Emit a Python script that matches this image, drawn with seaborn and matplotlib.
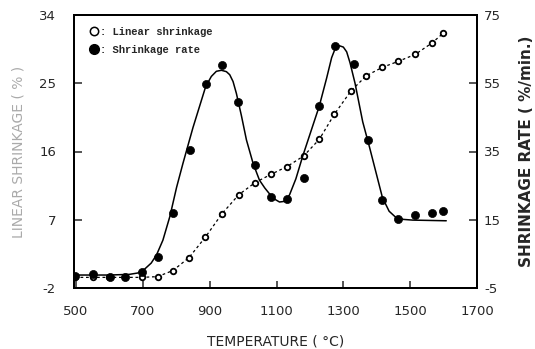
import matplotlib
matplotlib.use("Agg")
import matplotlib.pyplot as plt
import seaborn as sns
import pandas as pd
from matplotlib.lines import Line2D

# ---- data ----
temp_linear = [497, 552, 600, 648, 696, 744, 790, 838, 887, 937, 987, 1036, 1084,
               1131, 1181, 1228, 1273, 1323, 1369, 1417, 1465, 1515, 1565, 1599]
linear_shrinkage = [-0.6, -0.6, -0.6, -0.6, -0.6, -0.5, 0.3, 2.0, 4.7, 7.8, 10.3, 11.9,
                    13.0, 14.0, 15.4, 17.6, 20.9, 24.0, 26.0, 27.1, 27.9, 28.8, 30.3, 31.6]

temp_rate = [497, 552, 601, 648, 698, 744, 790, 840, 888, 937, 984, 1036, 1084,
             1131, 1181, 1228, 1275, 1331, 1373, 1417, 1465, 1515, 1565, 1599]
shrinkage_rate = [-1.4, -1.0, -1.7, -1.7, -0.3, 4.2, 17.1, 35.4, 54.9, 60.3, 49.4, 31.0,
                  21.8, 21.2, 27.1, 48.3, 65.9, 60.6, 38.4, 20.8, 15.2, 16.4, 16.9, 17.6]

# hand-drawn fit curve through the rate points
curve_temp = [497, 600, 660, 685, 705, 725, 741, 760, 781, 801, 820, 850, 888, 905,
              920, 935, 950, 960, 970, 980, 995, 1010, 1030, 1049, 1065, 1079, 1095,
              1109, 1125, 1139, 1158, 1178, 1205, 1228, 1250, 1265, 1275, 1288, 1300,
              1310, 1320, 1335, 1358, 1378, 1400, 1417, 1437, 1457, 1480, 1507, 1608]
curve_rate = [-1.2, -1.2, -1.0, -0.6, 0.5, 2.3, 4.7, 9.0, 16.0, 24.5, 31.5, 42.0,
              54.0, 57.0, 58.5, 58.8, 58.4, 57.5, 55.5, 52.0, 45.5, 38.4, 31.5, 26.6,
              24.3, 22.6, 21.0, 20.2, 20.4, 22.3, 27.0, 33.5, 41.5, 48.3, 56.5, 62.5,
              65.0, 66.0, 65.6, 64.2, 61.0, 55.0, 43.7, 36.4, 28.0, 21.5, 17.5, 15.7,
              15.1, 14.9, 14.7]

x_ticks = [500, 700, 900, 1100, 1300, 1500, 1700]
left_ticks = [-2, 7, 16, 25, 34]
right_ticks = [-5, 15, 35, 55, 75]

sns.set_style("ticks")
plt.rcParams['font.family'] = ['DejaVu Sans']
plt.rcParams['axes.unicode_minus'] = False

fig = plt.figure(figsize=(5.35, 3.49), dpi=100)
ax = fig.add_axes([74 / 535, 1 - 288 / 349, (477 - 74) / 535, (288 - 15) / 349])
ax2 = ax.twinx()

df_lin = pd.DataFrame({"T": temp_linear, "v": linear_shrinkage})
df_rate = pd.DataFrame({"T": temp_rate, "v": shrinkage_rate})
df_curve = pd.DataFrame({"T": curve_temp, "v": curve_rate})

sns.lineplot(data=df_lin, x="T", y="v", ax=ax, color="black", lw=0.9,
             linestyle=(0, (2.2, 2.2)), estimator=None, sort=False)
sns.scatterplot(data=df_lin, x="T", y="v", ax=ax, marker="o", s=16,
                facecolor="white", edgecolor="black", linewidth=1.3, zorder=3)

sns.lineplot(data=df_curve, x="T", y="v", ax=ax2, color="black", lw=1.1,
             estimator=None, sort=False)
sns.scatterplot(data=df_rate, x="T", y="v", ax=ax2, marker="o", s=34,
                color="black", edgecolor="black", linewidth=0.5, zorder=4)

ax.set_xlim(494, 1700)
ax.set_ylim(-2, 34)
ax2.set_ylim(-5, 75)
ax.set_xticks(x_ticks)
ax.set_xticklabels([str(t) for t in x_ticks])
ax.set_yticks(left_ticks)
ax.set_yticklabels([str(t) for t in left_ticks])
ax2.set_yticks(right_ticks)
ax2.set_yticklabels([str(t) for t in right_ticks])

for a in (ax, ax2):
    for s in a.spines.values():
        s.set_linewidth(1.4)
        s.set_color("black")
        s.set_visible(True)

ax.tick_params(axis="x", direction="in", length=5, width=1.1, pad=12, labelsize=9.5)
ax.tick_params(axis="y", direction="in", length=6, width=1.1, pad=13, labelsize=9.5)
ax2.tick_params(axis="y", direction="in", length=6, width=1.1, pad=5, labelsize=9.5)

ax.set_xlabel("TEMPERATURE ( °C)", fontsize=10, labelpad=12)
ax.set_ylabel("LINEAR SHRINKAGE ( % )", fontsize=10, color="#aaaaaa", labelpad=10)
ax2.set_ylabel("SHRINKAGE RATE ( %/min.)", fontsize=11, fontweight="bold",
               labelpad=13, rotation=90)

handles = [
    Line2D([], [], marker="o", linestyle="none", markerfacecolor="white",
           markeredgecolor="black", markeredgewidth=1.1, markersize=6),
    Line2D([], [], marker="o", linestyle="none", color="black", markersize=7),
]
leg = ax.legend(handles, [": Linear shrinkage", ": Shrinkage rate"],
                loc="upper left", bbox_to_anchor=(0.015, 0.995),
                frameon=False, handlelength=0.6, handletextpad=0.3,
                borderaxespad=0.6, labelspacing=0.75, borderpad=0.4,
                prop={"family": ["Liberation Mono", "DejaVu Sans Mono"],
                      "size": 7.6, "weight": "bold"})

fig.savefig("out.png", dpi=100, facecolor="white")
